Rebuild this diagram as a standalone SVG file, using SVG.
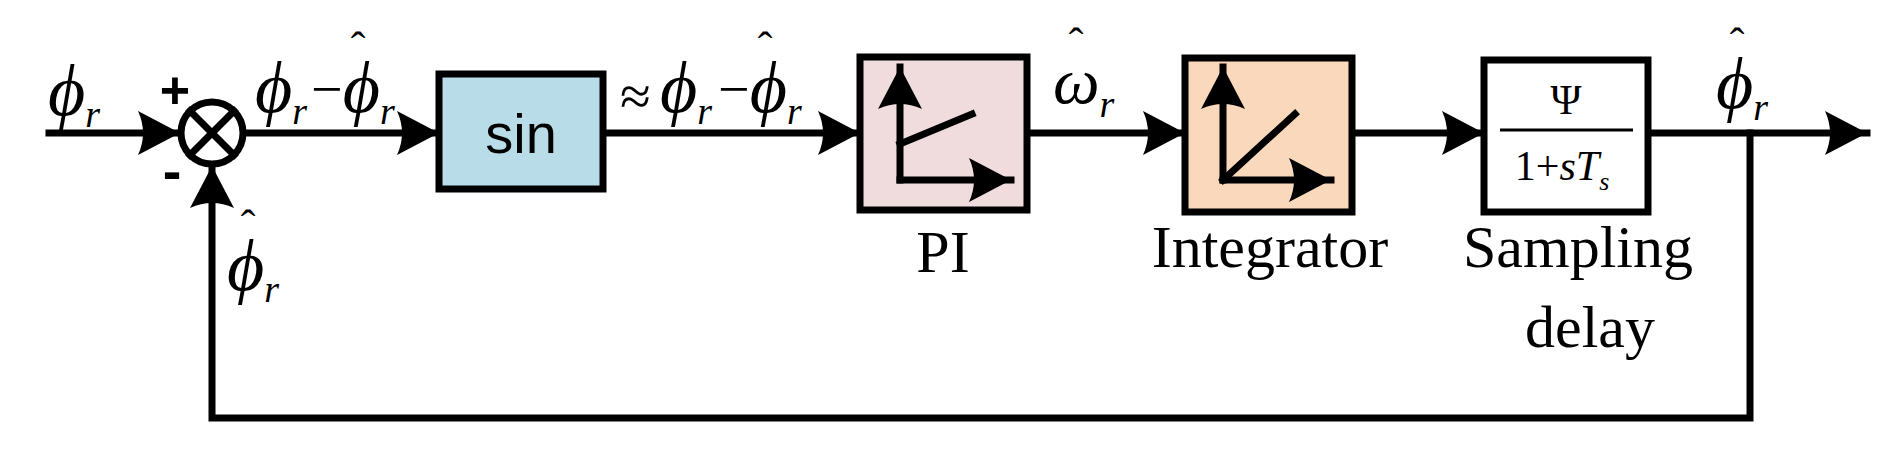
<svg xmlns="http://www.w3.org/2000/svg" width="1893" height="454" viewBox="0 0 1893 454">
<style>
.ln{stroke:#000;stroke-width:7;fill:none;stroke-linecap:square}
.bx{stroke:#000;stroke-width:7}
.m{font-family:"Liberation Serif",serif;font-style:italic;fill:#000}
.t{font-family:"Liberation Serif",serif;fill:#000}
.s{font-family:"Liberation Sans",sans-serif;fill:#000}
.h{font-family:"Liberation Serif",serif;fill:#000;font-size:44px;text-anchor:middle}
</style>
<defs>
<marker id="a" markerUnits="userSpaceOnUse" markerWidth="50" markerHeight="50" viewBox="-45 -25 50 50" refX="0" refY="0" orient="auto">
<path d="M0,0 L-42,-22 Q-32,0 -42,22 Z" fill="#000"/>
</marker>
</defs>
<g id="connectors">
<line class="ln" x1="49" y1="133" x2="180" y2="133" marker-end="url(#a)"/>
<line class="ln" x1="244" y1="133" x2="439" y2="133" marker-end="url(#a)"/>
<line class="ln" x1="603" y1="133" x2="860" y2="133" marker-end="url(#a)"/>
<line class="ln" x1="1027" y1="133" x2="1185" y2="133" marker-end="url(#a)"/>
<line class="ln" x1="1352" y1="133" x2="1484" y2="133" marker-end="url(#a)"/>
<line class="ln" x1="1648" y1="133" x2="1867" y2="133" marker-end="url(#a)"/>
<polyline class="ln" points="1750,133 1750,418 212,418 212,166" marker-end="url(#a)"/>
</g>
<g id="sum">
<circle cx="212" cy="133" r="31" fill="#fff" stroke="#000" stroke-width="7"/>
<line class="ln" x1="190" y1="111" x2="234" y2="155"/>
<line class="ln" x1="234" y1="111" x2="190" y2="155"/>
<text class="s" x="175" y="108" font-size="52" font-weight="bold" text-anchor="middle">+</text>
<text class="s" x="172" y="190" font-size="56" font-weight="bold" text-anchor="middle">-</text>
</g>
<g id="sin">
<rect class="bx" x="439" y="74" width="164" height="115" fill="#b8dde8"/>
<text class="s" x="521" y="153" font-size="56" text-anchor="middle">sin</text>
</g>
<g id="pi">
<rect class="bx" x="860" y="57" width="167" height="153" fill="#f0dcdc"/>
<line class="ln" x1="900" y1="180" x2="900" y2="67" marker-end="url(#a)"/>
<line class="ln" x1="900" y1="180" x2="1011" y2="180" marker-end="url(#a)"/>
<line class="ln" x1="900" y1="144" x2="972" y2="114"/>
<text class="t" x="943" y="272" font-size="60" text-anchor="middle">PI</text>
</g>
<g id="integrator">
<rect class="bx" x="1185" y="58" width="167" height="154" fill="#fad8bc"/>
<line class="ln" x1="1223" y1="180" x2="1223" y2="67" marker-end="url(#a)"/>
<line class="ln" x1="1223" y1="180" x2="1331" y2="180" marker-end="url(#a)"/>
<line class="ln" x1="1223" y1="180" x2="1295" y2="114"/>
<text class="t" x="1270" y="267" font-size="60" text-anchor="middle">Integrator</text>
</g>
<g id="delay">
<rect class="bx" x="1484" y="60" width="164" height="152" fill="#fff"/>
<text class="t" x="1566" y="114" font-size="42" text-anchor="middle">Ψ</text>
<line x1="1500" y1="130" x2="1633" y2="130" stroke="#000" stroke-width="3"/>
<text class="t" x="1562" y="180" font-size="42" text-anchor="middle">1+<tspan font-style="italic">sT</tspan><tspan font-style="italic" font-size="26" dy="10">s</tspan></text>
<text class="t" x="1578" y="267" font-size="60" text-anchor="middle">Sampling</text>
<text class="t" x="1590" y="347" font-size="60" text-anchor="middle">delay</text>
</g>
<g id="labels">
<text class="m" x="48" y="115" font-size="72">ϕ<tspan font-size="38" dy="12">r</tspan></text>
<text class="m" x="255" y="112" font-size="72">ϕ<tspan font-size="38" dy="12">r</tspan><tspan font-style="normal" font-size="56" dy="-16" dx="4">−</tspan><tspan dy="4">ϕ</tspan><tspan font-size="38" dy="12">r</tspan></text>
<text class="h" x="358" y="62">ˆ</text>
<text class="t" x="620" y="115" font-size="56">≈</text>
<text class="m" x="660" y="112" font-size="72">ϕ<tspan font-size="38" dy="12">r</tspan><tspan font-style="normal" font-size="56" dy="-16" dx="6">−</tspan><tspan dy="4">ϕ</tspan><tspan font-size="38" dy="12">r</tspan></text>
<text class="h" x="765" y="62">ˆ</text>
<text class="m" x="1053" y="103" font-size="66">ω<tspan font-size="38" dy="14">r</tspan></text>
<text class="h" x="1076" y="58">ˆ</text>
<text class="m" x="1716" y="108" font-size="72">ϕ<tspan font-size="38" dy="12">r</tspan></text>
<text class="h" x="1737" y="58">ˆ</text>
<text class="m" x="227" y="290" font-size="72">ϕ<tspan font-size="38" dy="12">r</tspan></text>
<text class="h" x="248" y="240">ˆ</text>
</g>
</svg>
